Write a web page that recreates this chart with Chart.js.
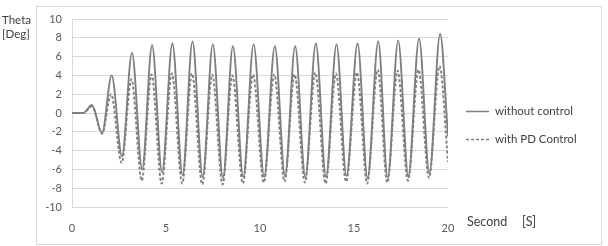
<!DOCTYPE html>
<html>
<head>
<meta charset="utf-8">
<script src="https://cdn.jsdelivr.net/npm/chart.js@4"></script>
<style>
  html, body { margin: 0; padding: 0; background: #fff; }
  #wrap { width: 608px; height: 246px; position: relative; }
</style>
</head>
<body>
<div id="wrap"><canvas id="thetaChart" width="608" height="246"></canvas></div>
<script>
// time [s] of each read-off point (start, bump, then peaks / troughs)
const timeNoCtrl = [0, 0.6, 1.06, 1.6, 2.11, 2.66, 3.19, 3.73, 4.26, 4.79, 5.34, 5.88, 6.41, 6.95,
  7.49, 8.03, 8.56, 9.11, 9.66, 10.22, 10.79, 11.33, 11.87, 12.41, 12.97, 13.51, 14.07, 14.6,
  15.19, 15.72, 16.29, 16.79, 17.35, 17.89, 18.46, 19.01, 19.58, 20];
const thetaNoCtrl = [0, 0, 0.85, -2.1, 4.0, -4.6, 6.4, -6.0, 7.2, -6.3, 7.4, -6.6, 7.6, -6.8,
  7.3, -6.9, 7.1, -6.8, 7.3, -6.8, 7.1, -6.7, 7.1, -6.8, 7.4, -6.8, 7.3, -6.7,
  7.4, -6.9, 7.6, -6.9, 7.7, -6.7, 7.9, -6.4, 8.4, -2.5];

const timePD = [0, 0.6, 1.06, 1.6, 2.08, 2.64, 3.16, 3.71, 4.23, 4.77, 5.31, 5.86, 6.38, 6.93,
  7.46, 8.01, 8.53, 9.09, 9.63, 10.2, 10.76, 11.31, 11.84, 12.39, 12.94, 13.49, 14.04, 14.58,
  15.16, 15.7, 16.26, 16.77, 17.32, 17.87, 18.43, 18.99, 19.55, 20];
const thetaPD = [0, 0, 0.7, -2.2, 2.0, -5.3, 3.6, -7.2, 4.1, -7.5, 4.2, -7.5, 4.2, -7.6,
  4.1, -7.6, 4.0, -7.5, 4.1, -7.4, 4.1, -7.3, 4.1, -7.4, 4.3, -7.5, 4.2, -7.3,
  4.3, -7.5, 4.6, -7.4, 4.5, -7.2, 4.6, -6.9, 5.0, -5.2];

const xTicks = [0, 5, 10, 15, 20];
const yTicks = [-10, -8, -6, -4, -2, 0, 2, 4, 6, 8, 10];

const FONT = 'Lato, "Open Sans", sans-serif';
const LINE = '#7f7f7f';

function toPoints(xs, ys) {
  return xs.map((x, i) => ({ x: x, y: ys[i] }));
}

// frame, axis captions and legend drawn round the plot
const decorations = {
  id: 'decorations',
  afterDraw(chart) {
    const ctx = chart.ctx;
    ctx.save();
    ctx.strokeStyle = '#d9d9d9';
    ctx.lineWidth = 1;
    ctx.strokeRect(36.5, 6.5, 565, 238);

    ctx.fillStyle = '#404040';
    ctx.font = '11.5px ' + FONT;
    ctx.textBaseline = 'middle';
    ctx.textAlign = 'left';
    ctx.fillText('Theta', 2, 20);
    ctx.fillText('[Deg]', 2, 34);
    ctx.font = '12.5px ' + FONT;
    ctx.fillText('Second', 467, 222);
    ctx.fillText('[S]', 522, 222);

    ctx.font = '11.5px ' + FONT;
    const rows = [111, 139];
    chart.data.datasets.forEach((ds, i) => {
      const y = rows[i];
      ctx.strokeStyle = ds.borderColor;
      ctx.lineWidth = 1.5;
      ctx.setLineDash(ds.borderDash || []);
      ctx.beginPath();
      ctx.moveTo(466, y + 0.5);
      ctx.lineTo(489, y + 0.5);
      ctx.stroke();
      ctx.setLineDash([]);
      ctx.fillStyle = '#404040';
      ctx.fillText(ds.label, 495, y);
    });
    ctx.restore();
  }
};

new Chart(document.getElementById('thetaChart').getContext('2d'), {
  type: 'line',
  data: {
    datasets: [{
      label: 'without control',
      data: toPoints(timeNoCtrl, thetaNoCtrl),
      borderColor: LINE,
      borderWidth: 1.9,
      pointRadius: 0,
      cubicInterpolationMode: 'monotone',
      fill: false
    }, {
      label: 'with PD Control',
      data: toPoints(timePD, thetaPD),
      borderColor: LINE,
      borderWidth: 1.9,
      borderDash: [3, 2],
      pointRadius: 0,
      cubicInterpolationMode: 'monotone',
      fill: false
    }]
  },
  options: {
    responsive: false,
    animation: false,
    layout: { padding: { left: 0, top: 19, right: 160, bottom: 0 } },
    plugins: {
      legend: { display: false },
      tooltip: { enabled: false }
    },
    scales: {
      x: {
        type: 'linear',
        min: 0,
        max: 20,
        afterBuildTicks(scale) { scale.ticks = xTicks.map(v => ({ value: v })); },
        afterFit(scale) { scale.height = 39; },
        grid: { display: false, drawTicks: false },
        border: { display: false },
        ticks: { color: '#595959', font: { family: FONT, size: 11 }, padding: 15, maxRotation: 0 }
      },
      y: {
        min: -10,
        max: 10,
        afterBuildTicks(scale) { scale.ticks = yTicks.map(v => ({ value: v })); },
        afterFit(scale) { scale.width = 72; },
        grid: { color: '#d9d9d9', lineWidth: 1, drawTicks: false },
        border: { display: true, color: '#d9d9d9' },
        ticks: { color: '#595959', font: { family: FONT, size: 11 }, padding: 10 }
      }
    }
  },
  plugins: [decorations]
});
</script>
</body>
</html>
